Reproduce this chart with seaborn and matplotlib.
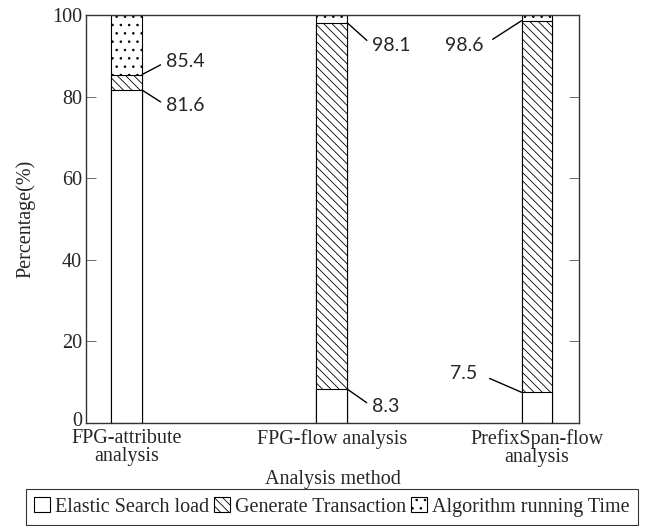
import matplotlib
matplotlib.use("Agg")
import matplotlib.pyplot as plt
import matplotlib.transforms as mtransforms
import seaborn as sns
import pandas as pd
from matplotlib.patches import Patch

methods = ["FPG-attribute\nanalysis", "FPG-flow analysis", "PrefixSpan-flow\nanalysis"]
elastic_load = [81.6, 8.3, 7.5]
generate_trans = [3.8, 89.8, 91.1]
algo_time = [14.6, 1.9, 1.4]
series_names = ["Elastic Search load", "Generate Transaction", "Algorithm running Time"]

sns.set_theme(style="ticks")
plt.rcParams['font.family'] = ['Liberation Serif', 'DejaVu Serif']
plt.rcParams['hatch.linewidth'] = 0.6

cum1 = elastic_load
cum2 = [a + b for a, b in zip(elastic_load, generate_trans)]
cum3 = [a + b + c for a, b, c in zip(elastic_load, generate_trans, algo_time)]

df = pd.DataFrame({"method": methods, "c1": cum1, "c2": cum2, "c3": cum3})

fig = plt.figure(figsize=(6.52, 5.26), dpi=100)
ax = fig.add_axes([0.132, 0.196, 0.756, 0.7755])

W = 0.15
sns.barplot(data=df, x="method", y="c3", ax=ax, color="white", edgecolor="black",
            linewidth=0.8, width=W, hatch="..", saturation=1)
sns.barplot(data=df, x="method", y="c2", ax=ax, color="white", edgecolor="black",
            linewidth=0.8, width=W, hatch="\\\\\\\\", saturation=1)
sns.barplot(data=df, x="method", y="c1", ax=ax, color="white", edgecolor="black",
            linewidth=0.8, width=W, saturation=1)

FS = 14.5
ax.set_xlim(-0.198, 2.205)
ax.set_ylim(0, 100)
ax.set_yticks([0, 20, 40, 60, 80, 100])
ax.set_xlabel("Analysis method", fontsize=FS, labelpad=2)
ax.set_ylabel("Percentage(%)", fontsize=FS, labelpad=12)
ax.tick_params(axis="both", direction="in", length=7, width=0.6, color="#555555",
               top=True, right=True, labelsize=FS, pad=3)
ax.tick_params(axis="x", pad=4.5)
for lab in ax.get_xticklabels():
    lab.set_linespacing(0.95)
# lift the "0" label slightly so it clears the category label below
zero_lab = ax.get_yticklabels()[0]
zero_lab.set_transform(zero_lab.get_transform() +
                       mtransforms.ScaledTranslation(0, 3 / 72, fig.dpi_scale_trans))
for s in ax.spines.values():
    s.set_linewidth(1.0)
    s.set_color("#333333")

afont = dict(family=["Lato", "DejaVu Sans"], fontsize=14)
aprops = dict(arrowstyle="-", color="black", lw=1.0, shrinkA=2, shrinkB=0)
hw = W / 2
ax.annotate(f"{cum2[0]:.1f}", xy=(0 + hw, cum2[0]), xytext=(0.193, 88.5),
            ha="left", va="center", arrowprops=dict(aprops, relpos=(0, 0.5)), **afont)
ax.annotate(f"{cum1[0]:.1f}", xy=(0 + hw, cum1[0]), xytext=(0.193, 77.8),
            ha="left", va="center", arrowprops=dict(aprops, relpos=(0, 0.5)), **afont)
ax.annotate(f"{cum2[1]:.1f}", xy=(1 + hw, cum2[1]), xytext=(1.197, 92.6),
            ha="left", va="center", arrowprops=dict(aprops, relpos=(0, 0.5)), **afont)
ax.annotate(f"{cum1[1]:.1f}", xy=(1 + hw, cum1[1]), xytext=(1.197, 4.0),
            ha="left", va="center", arrowprops=dict(aprops, relpos=(0, 0.5)), **afont)
ax.annotate(f"{cum2[2]:.1f}", xy=(2 - hw, cum2[2]), xytext=(1.74, 92.6),
            ha="right", va="center", arrowprops=dict(aprops, relpos=(1, 0.5), shrinkA=5), **afont)
ax.annotate(f"{cum1[2]:.1f}", xy=(2 - hw, cum1[2]), xytext=(1.71, 12.2),
            ha="right", va="center", arrowprops=dict(aprops, relpos=(1, 0.5), shrinkA=7), **afont)

handles = [Patch(facecolor="white", edgecolor="black", lw=0.8),
           Patch(facecolor="white", edgecolor="black", lw=0.8, hatch="\\\\\\\\"),
           Patch(facecolor="white", edgecolor="black", lw=0.8, hatch="..")]
leg = fig.legend(handles, series_names, loc="upper center", ncol=3,
                 bbox_to_anchor=(0.509, 0.0703),
                 fancybox=False, edgecolor="black", fontsize=FS,
                 handlelength=0.8, handleheight=0.8, handletextpad=0.25,
                 columnspacing=0.25, borderaxespad=0, borderpad=0.4)
leg.get_frame().set_linewidth(0.8)

fig.savefig("out.png", dpi=100)
